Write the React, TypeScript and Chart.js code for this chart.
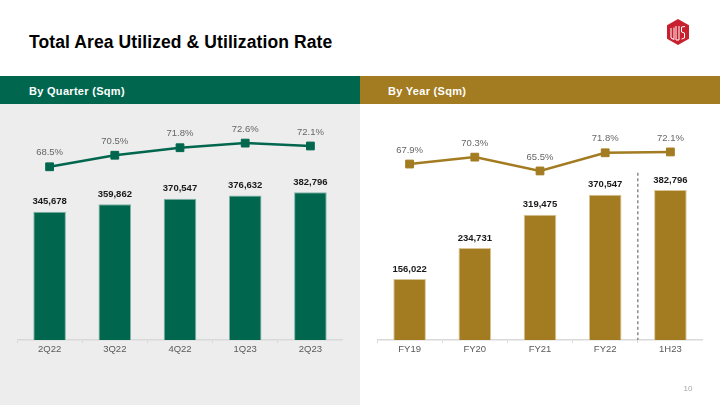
import React, { useEffect, useRef } from "react";
import { Chart, registerables } from "chart.js";

Chart.register(...registerables);

const FONT = '"Liberation Sans", Arial, Helvetica, sans-serif';
const GREEN = "#00674E";
const GOLD = "#A37B20";

// By Quarter (Sqm)
const quarterLabels = ["2Q22", "3Q22", "4Q22", "1Q23", "2Q23"];
const quarterArea = [345678, 359862, 370547, 376632, 382796];
const quarterRate = [68.5, 70.5, 71.8, 72.6, 72.1];

// By Year (Sqm)
const yearLabels = ["FY19", "FY20", "FY21", "FY22", "1H23"];
const yearArea = [156022, 234731, 319475, 370547, 382796];
const yearRate = [67.9, 70.3, 65.5, 71.8, 72.1];

const fmt = (v: number) => String(v).replace(/\B(?=(\d{3})+(?!\d))/g, ",");

type ComboProps = {
  labels: string[];
  area: number[];
  rate: number[];
  color: string;
  borderTint: string;
  areaMin: number;
  areaMax: number;
  rateMin: number;
  rateMax: number;
  dividerAfter?: number;
  dividerTop?: number;
  style: React.CSSProperties;
};

function ComboChart(props: ComboProps) {
  const ref = useRef<HTMLCanvasElement>(null);
  useEffect(() => {
    const canvas = ref.current;
    if (!canvas) return;
    const labelPlugin = {
      id: "valueLabels",
      afterDatasetsDraw(chart: any) {
        const ctx = chart.ctx;
        ctx.save();
        ctx.textAlign = "center";
        ctx.textBaseline = "middle";
        chart.data.datasets.forEach((ds: any, i: number) => {
          const meta = chart.getDatasetMeta(i);
          meta.data.forEach((el: any, j: number) => {
            const v = ds.data[j] as number;
            if (ds.type === "bar") {
              ctx.font = `bold 9.5px ${FONT}`;
              ctx.fillStyle = "#1a1a1a";
              ctx.fillText(fmt(v), el.x, el.y - 10);
            } else {
              ctx.font = `9.5px ${FONT}`;
              ctx.fillStyle = "#666666";
              ctx.fillText(v.toFixed(1) + "%", el.x, el.y - 14);
            }
          });
        });
        ctx.restore();
      },
    };
    const dividerPlugin = {
      id: "divider",
      beforeDatasetsDraw(chart: any) {
        if (props.dividerAfter == null || props.dividerTop == null) return;
        const bars = chart.getDatasetMeta(0).data;
        const k = props.dividerAfter;
        const x = (bars[k].x + bars[k + 1].x) / 2;
        const yTop = chart.scales.y.getPixelForValue(props.dividerTop);
        const yBot = chart.chartArea.bottom;
        const ctx = chart.ctx;
        ctx.save();
        ctx.strokeStyle = "#8c8c8c";
        ctx.lineWidth = 1.5;
        ctx.setLineDash([3, 2.5]);
        ctx.beginPath();
        ctx.moveTo(x, yTop);
        ctx.lineTo(x, yBot);
        ctx.stroke();
        ctx.restore();
      },
    };
    const chart = new Chart(canvas, {
      type: "bar",
      data: {
        labels: props.labels,
        datasets: [
          {
            type: "bar",
            data: props.area,
            backgroundColor: props.color,
            borderColor: props.borderTint,
            borderWidth: 1,
            categoryPercentage: 1,
            barPercentage: 0.5,
            yAxisID: "y",
            order: 2,
          } as any,
          {
            type: "line",
            data: props.rate,
            borderColor: props.color,
            borderWidth: 2.5,
            pointStyle: "rect",
            pointRadius: 5.5,
            pointBackgroundColor: props.color,
            pointBorderColor: props.color,
            pointBorderWidth: 1,
            tension: 0,
            yAxisID: "y1",
            order: 1,
            clip: false,
          } as any,
        ],
      },
      options: {
        animation: false,
        responsive: false,
        maintainAspectRatio: false,
        devicePixelRatio: 1,
        layout: { autoPadding: false, padding: { top: 0, left: 0, right: 0, bottom: 48.6 } },
        plugins: {
          legend: { display: false },
          tooltip: { enabled: false },
          title: { display: false },
        },
        scales: {
          x: {
            grid: {
              display: true,
              drawOnChartArea: false,
              drawTicks: true,
              tickLength: 3,
              color: "#d9d9d9",
              offset: true,
            },
            border: { display: true, color: "#d9d9d9", width: 1.5 },
            ticks: {
              color: "#595959",
              font: { family: FONT, size: 9.5 },
              padding: 1,
            },
          },
          y: { display: false, min: props.areaMin, max: props.areaMax },
          y1: { display: false, min: props.rateMin, max: props.rateMax, position: "right" },
        },
      } as any,
      plugins: [labelPlugin, dividerPlugin],
    });
    return () => chart.destroy();
  }, []);
  return <canvas ref={ref} width={326} height={300} style={{ position: "absolute", ...props.style }} />;
}

function Logo() {
  return (
    <svg width="24" height="26" viewBox="0 0 24 26" style={{ position: "absolute", left: 666, top: 19 }}>
      <polygon points="12,0 23,6.3 23,19.7 12,26 1,19.7 1,6.3" fill="#C8202F" />
      <g stroke="#ffffff" strokeWidth="1" fill="none">
        <polyline points="5,9 5,19 8,20.5 8,8.5" />
        <polyline points="10,7 10,21 13,21 13,7" />
        <polyline points="19,7.5 15.5,8 15.5,13 18.5,14 18.5,19 15.5,20" />
      </g>
    </svg>
  );
}

export default function App() {
  useEffect(() => {
    document.body.style.margin = "0";
  }, []);
  return (
    <div
      style={{
        position: "fixed",
        left: 0,
        top: 0,
        width: 720,
        height: 405,
        overflow: "hidden",
        background: "#ffffff",
        fontFamily: FONT,
      }}
    >
      <div
        style={{
          position: "absolute",
          left: 29,
          top: 34,
          fontSize: 17.5,
          lineHeight: "17.5px",
          fontWeight: "bold",
          letterSpacing: 0.1,
          color: "#000000",
          whiteSpace: "nowrap",
        }}
      >
        Total Area Utilized &amp; Utilization Rate
      </div>
      <Logo />
      <div style={{ position: "absolute", left: 0, top: 76, width: 360, height: 28, background: GREEN }} />
      <div style={{ position: "absolute", left: 360, top: 76, width: 360, height: 28, background: GOLD }} />
      <div
        style={{
          position: "absolute",
          left: 29,
          top: 77,
          lineHeight: "28px",
          fontSize: 11,
          fontWeight: "bold",
          letterSpacing: 0.3,
          color: "#ffffff",
          whiteSpace: "nowrap",
        }}
      >
        By Quarter (Sqm)
      </div>
      <div
        style={{
          position: "absolute",
          left: 388,
          top: 77,
          lineHeight: "28px",
          fontSize: 11,
          fontWeight: "bold",
          letterSpacing: 0.3,
          color: "#ffffff",
          whiteSpace: "nowrap",
        }}
      >
        By Year (Sqm)
      </div>
      <div style={{ position: "absolute", left: 0, top: 104, width: 360, height: 301, background: "#EDEDED" }} />
      <ComboChart
        labels={quarterLabels}
        area={quarterArea}
        rate={quarterRate}
        color={GREEN}
        borderTint="#7fb3a6"
        areaMin={100000}
        areaMax={550000}
        rateMin={38.5}
        rateMax={79.2}
        style={{ left: 17, top: 105 }}
      />
      <ComboChart
        labels={yearLabels}
        area={yearArea}
        rate={yearRate}
        color={GOLD}
        borderTint="#d9c495"
        areaMin={0}
        areaMax={600000}
        rateMin={6.8}
        rateMax={88.4}
        dividerAfter={3}
        dividerTop={427000}
        style={{ left: 377, top: 105 }}
      />
      <div
        style={{
          position: "absolute",
          left: 676,
          top: 384,
          width: 24,
          textAlign: "center",
          fontSize: 8,
          lineHeight: "10px",
          color: "#a6a6a6",
        }}
      >
        10
      </div>
    </div>
  );
}
